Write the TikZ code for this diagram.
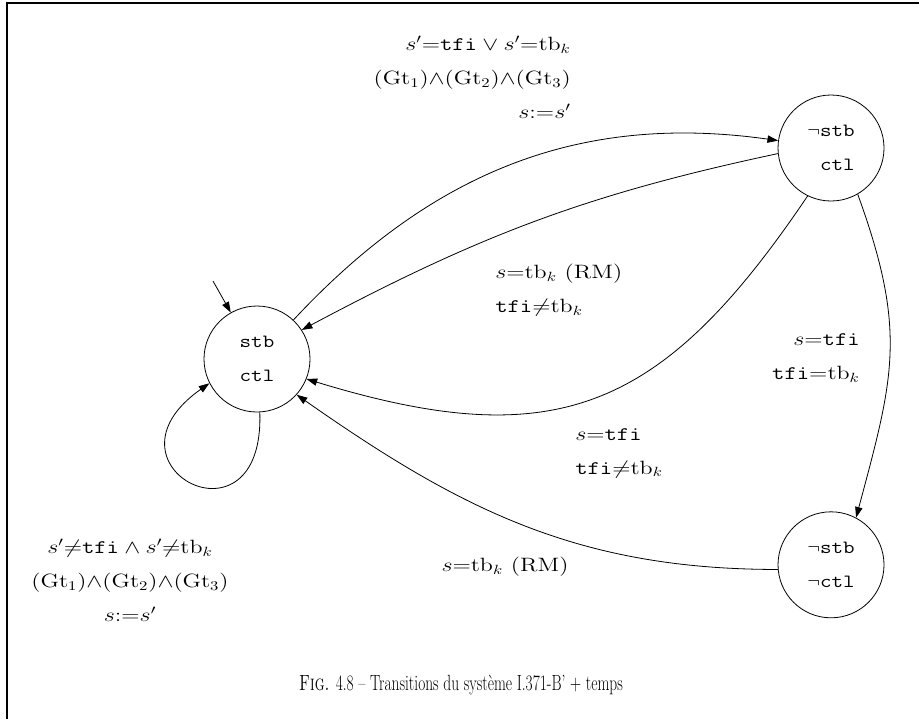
\documentclass[tikz,border=0pt]{standalone}
\usepackage{graphicx}
\usetikzlibrary{arrows.meta, positioning}

\newcommand{\lblline}[1]{\scalebox{1.25}[1]{#1}}
\newcommand{\stline}[1]{\scalebox{1.2}[1]{\texttt{#1}}}

\begin{document}
\begin{tikzpicture}[
  x=0.75pt, y=-0.75pt,
  state/.style={circle, draw, line width=0.6pt, minimum size=79.5pt, inner sep=0pt, align=right, font={\fontsize{14}{25.5}\selectfont}},
  lbl/.style={inner sep=0pt, font={\fontsize{14.5}{25.5}\selectfont}},
  arr/.style={-{Triangle[length=8pt, width=5.5pt]}, line width=0.6pt}
  ]
  \useasboundingbox (0,0) rectangle (919,719);
  \draw[line width=1.5pt] (7,719) -- (7,3) -- (919,3);

  \node[state] (stb) at (257,359) {\stline{stb}\\\stline{ctl}};
  \node[state] (nctl) at (831,148) {$\neg$\stline{stb}\\\stline{ctl}};
  \node[state, below=232.5pt of nctl] (nnctl) {$\neg$\stline{stb}\\$\neg$\stline{ctl}};
  \coordinate (init) at (213,281);

  \draw[arr] (init) -- (stb);
  \draw[arr] (stb.-87) to[out=-88, in=215, distance=108pt] (stb.207);
  \draw[arr] (stb.47) to[out=47, in=172] (nctl.172);
  \draw[arr] (nctl.186) to[out=192, in=28] (stb.33);
  \draw[arr] (nctl.244) to[out=236, in=343, looseness=1.25] (stb.338);
  \draw[arr] (nctl.-60) to[out=-70, in=75, looseness=1.15] (nnctl.62);
  \draw[arr] (nnctl.185) to[out=180, in=325] (stb.318);

  \node[lbl, align=right, anchor=east] (upcond) at (571,77) {\lblline{$s'{=}\mathtt{tfi}\vee s'{=}\mathrm{tb}_k$}\\ \lblline{$(\mathrm{Gt}_1){\wedge}(\mathrm{Gt}_2){\wedge}(\mathrm{Gt}_3)$}\\ \lblline{$s{:=}s'$}};
  \node[lbl, align=left, anchor=west] (rmcond) at (495,290) {\lblline{$s{=}\mathrm{tb}_k$~(RM)}\\ \lblline{$\mathtt{tfi}{\neq}\mathrm{tb}_k$}};
  \node[lbl, align=right, anchor=east] (eqcond) at (860,358) {\lblline{$s{=}\mathtt{tfi}$}\\ \lblline{$\mathtt{tfi}{=}\mathrm{tb}_k$}};
  \node[lbl, align=left, anchor=west] (neqcond) at (575,453) {\lblline{$s{=}\mathtt{tfi}$}\\ \lblline{$\mathtt{tfi}{\neq}\mathrm{tb}_k$}};
  \node[lbl] (backcond) at (505,567) {\lblline{$s{=}\mathrm{tb}_k$~(RM)}};
  \node[lbl, align=center] (loopcond) at (130,580) {\lblline{$s'{\neq}\mathtt{tfi}\wedge s'{\neq}\mathrm{tb}_k$}\\ \lblline{$(\mathrm{Gt}_1){\wedge}(\mathrm{Gt}_2){\wedge}(\mathrm{Gt}_3)$}\\ \lblline{$s{:=}s'$}};

  \node[font={\fontsize{16.5}{20}\selectfont}] (caption) at (461,685) {\scalebox{0.7}[1]{\textsc{Fig.} 4.8 -- Transitions du syst\`eme I.371-B' + temps}};
\end{tikzpicture}
\end{document}
